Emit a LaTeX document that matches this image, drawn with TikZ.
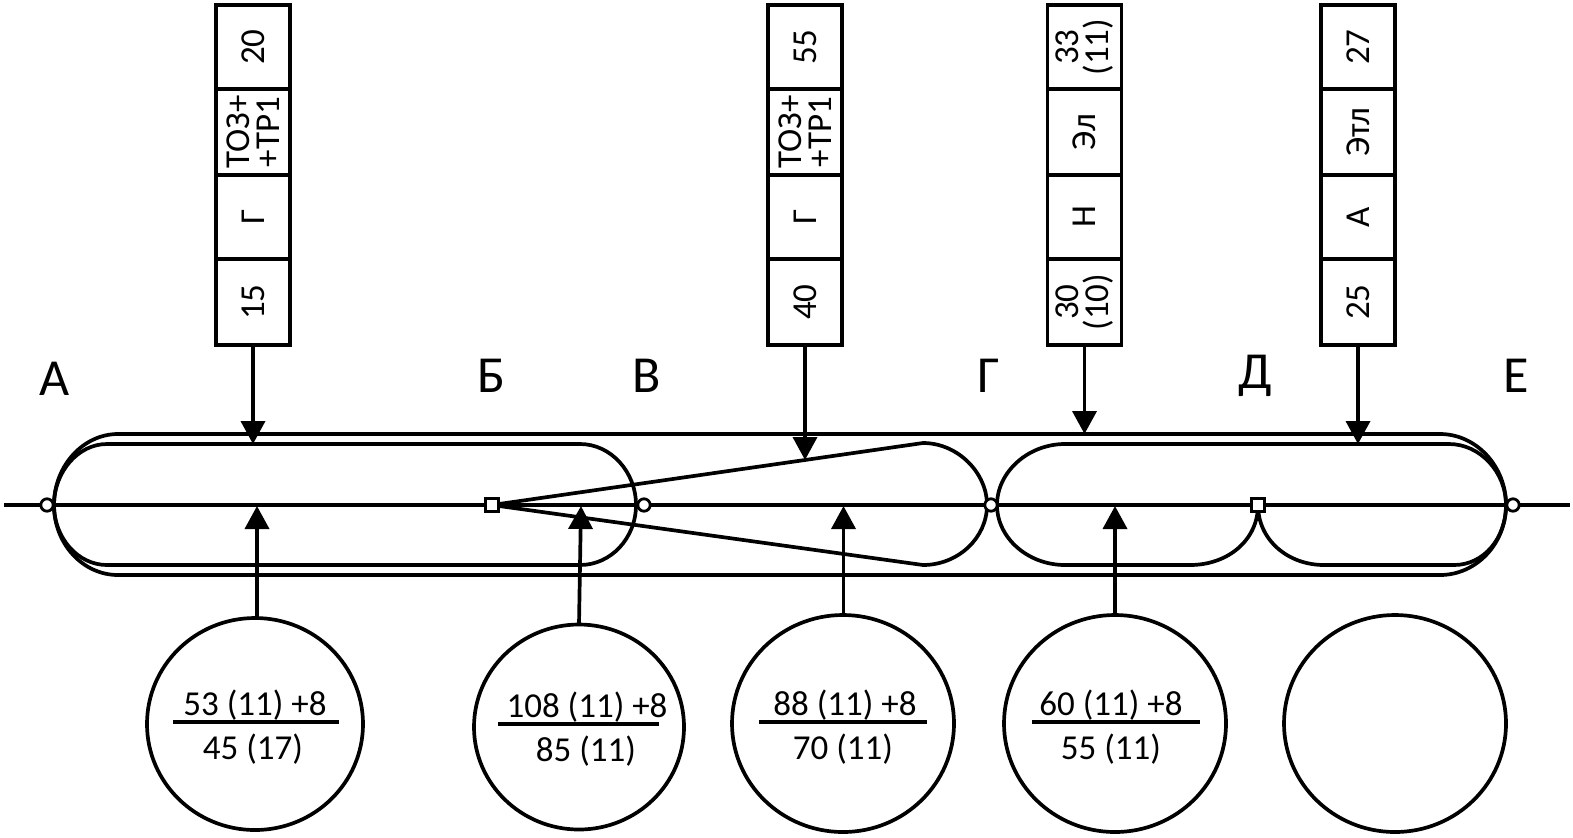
\documentclass[tikz,border=0pt]{standalone}
\usepackage{fontspec}
\setmainfont{Carlito}
\usetikzlibrary{arrows.meta,shapes.geometric}
\tikzset{
  x=0.5pt,y=-0.5pt,
  ln/.style={line width=1.85pt,black},
  cell/.style={ln,draw,fill=white,rectangle,minimum width=37pt,inner sep=0pt,outer sep=0pt,rotate=90,transform shape,
    align=center,font=\fontsize{17.5}{15}\selectfont},
  cellA/.style={cell,minimum width=42pt,minimum height=37pt},
  cellB/.style={cell,minimum width=43pt,minimum height=37pt},
  arr/.style={ln,-{Triangle[width=12pt,length=11.5pt]},shorten >=0pt},
  ring/.style={ln,draw,ellipse,inner sep=0pt,outer sep=0pt,fill=white},
  dot/.style={ln,draw,circle,fill=white,minimum size=6.2pt,inner sep=0pt,line width=1.4pt},
  sq/.style={draw,rectangle,fill=white,minimum size=6.8pt,inner sep=0pt,line width=1.6pt},
  frac/.style={font=\fontsize{17.5}{20}\selectfont,inner sep=0pt},
  lett/.style={font=\fontsize{26}{30}\selectfont,inner sep=0pt},
}
\begin{document}
\begin{tikzpicture}
\useasboundingbox (0,0) rectangle (1573,837);
\fill[white] (0,0) rectangle (1573,837);

% main line
\coordinate (L) at (4,505);
\coordinate (R) at (1570,505);
\draw[ln] (L) -- (R);

% outer envelope
\draw[ln] (118,434) -- (1440,434) .. controls (1476,434) and (1506,466) .. (1506,505)
  .. controls (1506,544) and (1476,575) .. (1440,575) -- (118,575)
  .. controls (83,575) and (54,544) .. (54,505)
  .. controls (54,466) and (83,434) .. (118,434) -- cycle;
% inner left
\draw[ln] (107,444) -- (580,444) .. controls (611,444) and (636,472) .. (636,505)
  .. controls (636,538) and (611,565) .. (580,565) -- (107,565)
  .. controls (78,565) and (54,538) .. (54,505)
  .. controls (54,472) and (78,444) .. (107,444) -- cycle;
% wedge
\coordinate (apex) at (492,505);
\draw[ln] (apex) -- (923,443) .. controls (958,443) and (987,473) .. (987,505)
  .. controls (987,538) and (958,565) .. (923,565) -- (apex);
% inner right
\coordinate (apexD) at (1258,505);
\draw[ln] (apexD) .. controls (1258,540) and (1228,565) .. (1190,565) -- (1065,565)
  .. controls (1028,565) and (997,538) .. (997,505)
  .. controls (997,472) and (1028,444) .. (1065,444) -- (1449,444)
  .. controls (1480,444) and (1506,472) .. (1506,505)
  .. controls (1506,538) and (1484,565) .. (1454,565) -- (1324,565)
  .. controls (1288,565) and (1258,540) .. (apexD);

% junctions
\node[dot] (j1) at (47,505) {};
\node[dot] (j2) at (644,505) {};
\node[dot] (j3) at (991,505) {};
\node[dot] (j4) at (1513,505) {};
\node[sq] (sB) at (apex) {};
\node[sq] (sD) at (apexD) {};

% station letters
\node[lett] (lA) at (55,379) {А};
\node[lett] (lB) at (491,376) {Б};
\node[lett] (lV) at (646.5,376) {В};
\node[lett] (lG) at (989,376) {Г};
\node[lett] (lD) at (1255,376) {Д};
\node[lett] (lE) at (1516,376) {Е};

% boxes
\node[cellA] (a1) at (253,47) {20};
\node[cellB] (a2) at (253,132) {ТОЗ+\\+ТР1};
\node[cellA] (a3) at (253,217) {Г};
\node[cellB] (a4) at (253,302) {15};

\node[cellA] (b1) at (805,47) {55};
\node[cellB] (b2) at (805,132) {ТОЗ+\\+ТР1};
\node[cellA] (b3) at (805,217) {Г};
\node[cellB] (b4) at (805,302) {40};

\node[cellA] (c1) at (1084.5,47) {33\\(11)};
\node[cellB] (c2) at (1084.5,132) {Эл};
\node[cellA] (c3) at (1084.5,217) {Н};
\node[cellB] (c4) at (1084.5,302) {30\\(10)};

\node[cellA] (d1) at (1358,47) {27};
\node[cellB] (d2) at (1358,132) {Этл};
\node[cellA] (d3) at (1358,217) {А};
\node[cellB] (d4) at (1358,302) {25};

% top arrows
\coordinate (t1) at (253,444);
\coordinate (t2) at (805,460);
\coordinate (t3) at (1084.5,434);
\coordinate (t4) at (1358,444);
\draw[arr] (a4.west) -- (t1);
\draw[arr] (b4.west) -- (t2);
\draw[arr] (c4.west) -- (t3);
\draw[arr] (d4.west) -- (t4);

% circles
\node[ring,minimum width=108pt,minimum height=106pt] (k1) at (255,724) {};
\node[ring,minimum width=105pt,minimum height=102.5pt] (k2) at (579,727) {};
\node[ring,minimum width=111pt,minimum height=108.5pt] (k3) at (843,723.5) {};
\node[ring,minimum width=111pt,minimum height=108.5pt] (k4) at (1115,723.5) {};
\node[ring,minimum width=111pt,minimum height=108.5pt] (k5) at (1395,723.5) {};

% bottom arrows
\coordinate (u1) at (257,506);
\coordinate (u2) at (581,506);
\coordinate (u3) at (843.5,506);
\coordinate (u4) at (1115,506);
\draw[arr] (u1 |- k1.north) -- (u1);
\draw[arr] (k2.north) -- (u2);
\draw[arr] (u3 |- k3.north) -- (u3);
\draw[arr] (k4.north) -- (u4);

% fractions
\node[frac] (f1t) at (255,705) {53 (11) +8};
\node[frac] (f1b) at (253,749) {45 (17)};
\coordinate (f1l) at (173,722); \coordinate (f1r) at (339,722);
\draw[ln] (f1l) -- (f1r);

\node[frac] (f2t) at (587,707) {108 (11) +8};
\node[frac] (f2b) at (586,751) {85 (11)};
\coordinate (f2l) at (498,724); \coordinate (f2r) at (659,724);
\draw[ln] (f2l) -- (f2r);

\node[frac] (f3t) at (845,705) {88 (11) +8};
\node[frac] (f3b) at (843,749) {70 (11)};
\coordinate (f3l) at (759,722); \coordinate (f3r) at (927,722);
\draw[ln] (f3l) -- (f3r);

\node[frac] (f4t) at (1111,705) {60 (11) +8};
\node[frac] (f4b) at (1111,749) {55 (11)};
\coordinate (f4l) at (1032,722); \coordinate (f4r) at (1200,722);
\draw[ln] (f4l) -- (f4r);
\end{tikzpicture}
\end{document}
